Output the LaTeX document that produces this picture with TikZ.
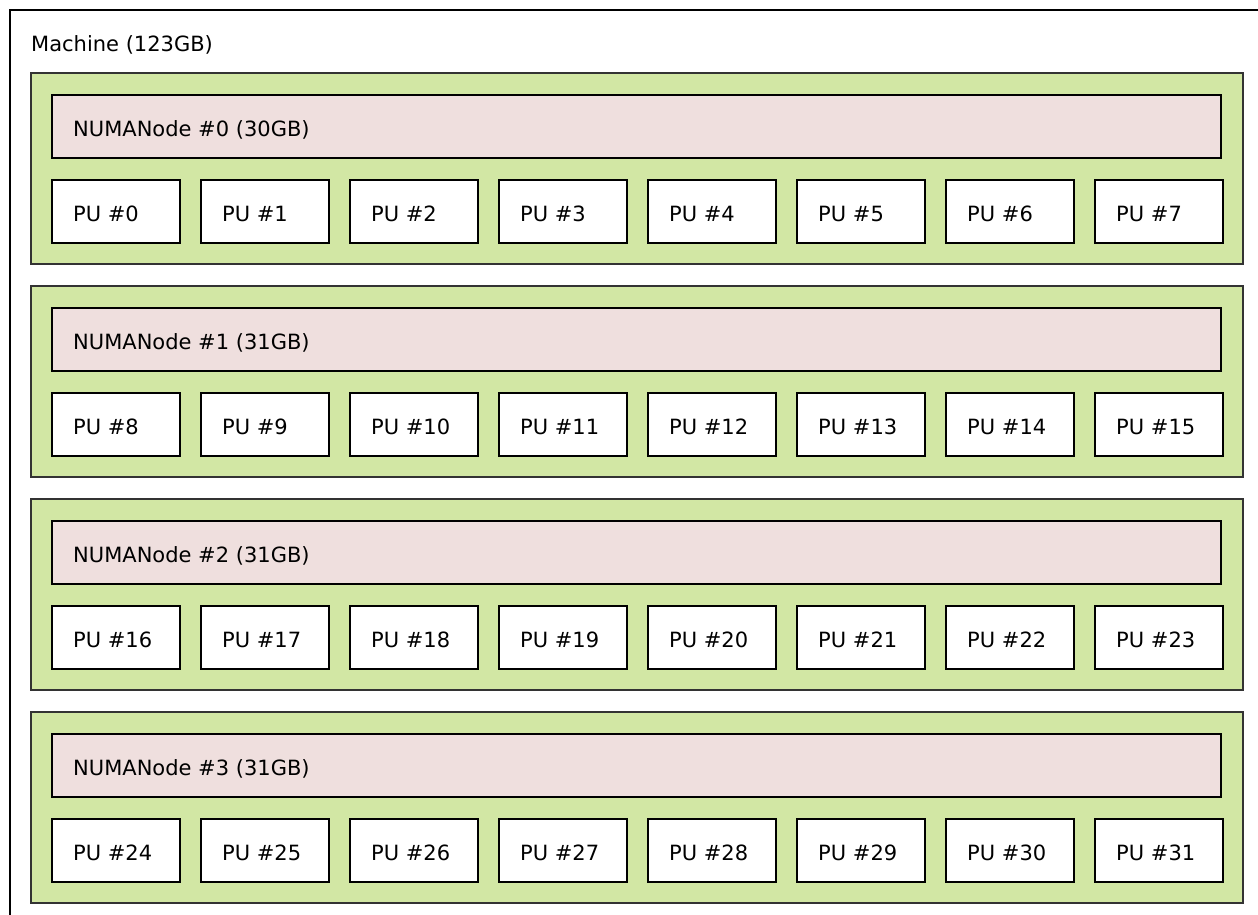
\documentclass[tikz,border=0pt]{standalone}
\usepackage{fontspec}
\setmainfont{DejaVu Sans}
\definecolor{pkggreen}{HTML}{D2E7A4}
\definecolor{numapink}{HTML}{EFDFDE}
\begin{document}
\begin{tikzpicture}
	  [
	    x                       = 1pt,
	    y                       = -1pt,
	    every node/.style       = {font=\fontsize{21}{25}\selectfont},
	    box/.style              = {
			draw, line width=2pt, inner sep=0pt, anchor=north west
		},
	    machinebox/.style       = {box, line width=2.2pt, fill=white},
	    pkgbox/.style           = {
			box, fill=pkggreen, draw=black!80,
			minimum width=1212pt, minimum height=191pt
		},
	    numabox/.style          = {
			box, fill=numapink,
			minimum width=1169pt, minimum height=63pt
		},
	    pubox/.style            = {
			box, fill=white,
			minimum width=128pt, minimum height=63pt
		},
	    boxlabel/.style         = {inner sep=0pt, anchor=base west}
		]
		\useasboundingbox (0,0) rectangle (1258,915);
		\clip (0,0) rectangle (1258,915);
		% machine
		\node[machinebox, minimum width=1300pt, minimum height=1000pt]
			(machine) at (9,9) {};
		\node[boxlabel] (machinetext) at (31,52) {Machine (123GB)};
		% packages with their numa node and pus
		\foreach \i/\mem in {0/30,1/31,2/31,3/31} {
			\node[pkgbox] (pkg\i) at (30,72+213*\i) {};
			\node[numabox] (numa\i) at (51,94+213*\i) {};
			\node[boxlabel] (numa\i text) at (73,136+213*\i)
				{NUMANode \#\i\ (\mem GB)};
			\foreach \j in {0,...,7} {
				\pgfmathtruncatemacro{\n}{8*\i+\j}
				\node[pubox] (pu\n) at (51+149*\j,179+213*\i) {};
				\node[boxlabel] (pu\n text) at (73+149*\j,221.5+213*\i)
					{PU \#\n};
			}
		}
	\end{tikzpicture}
\end{document}
